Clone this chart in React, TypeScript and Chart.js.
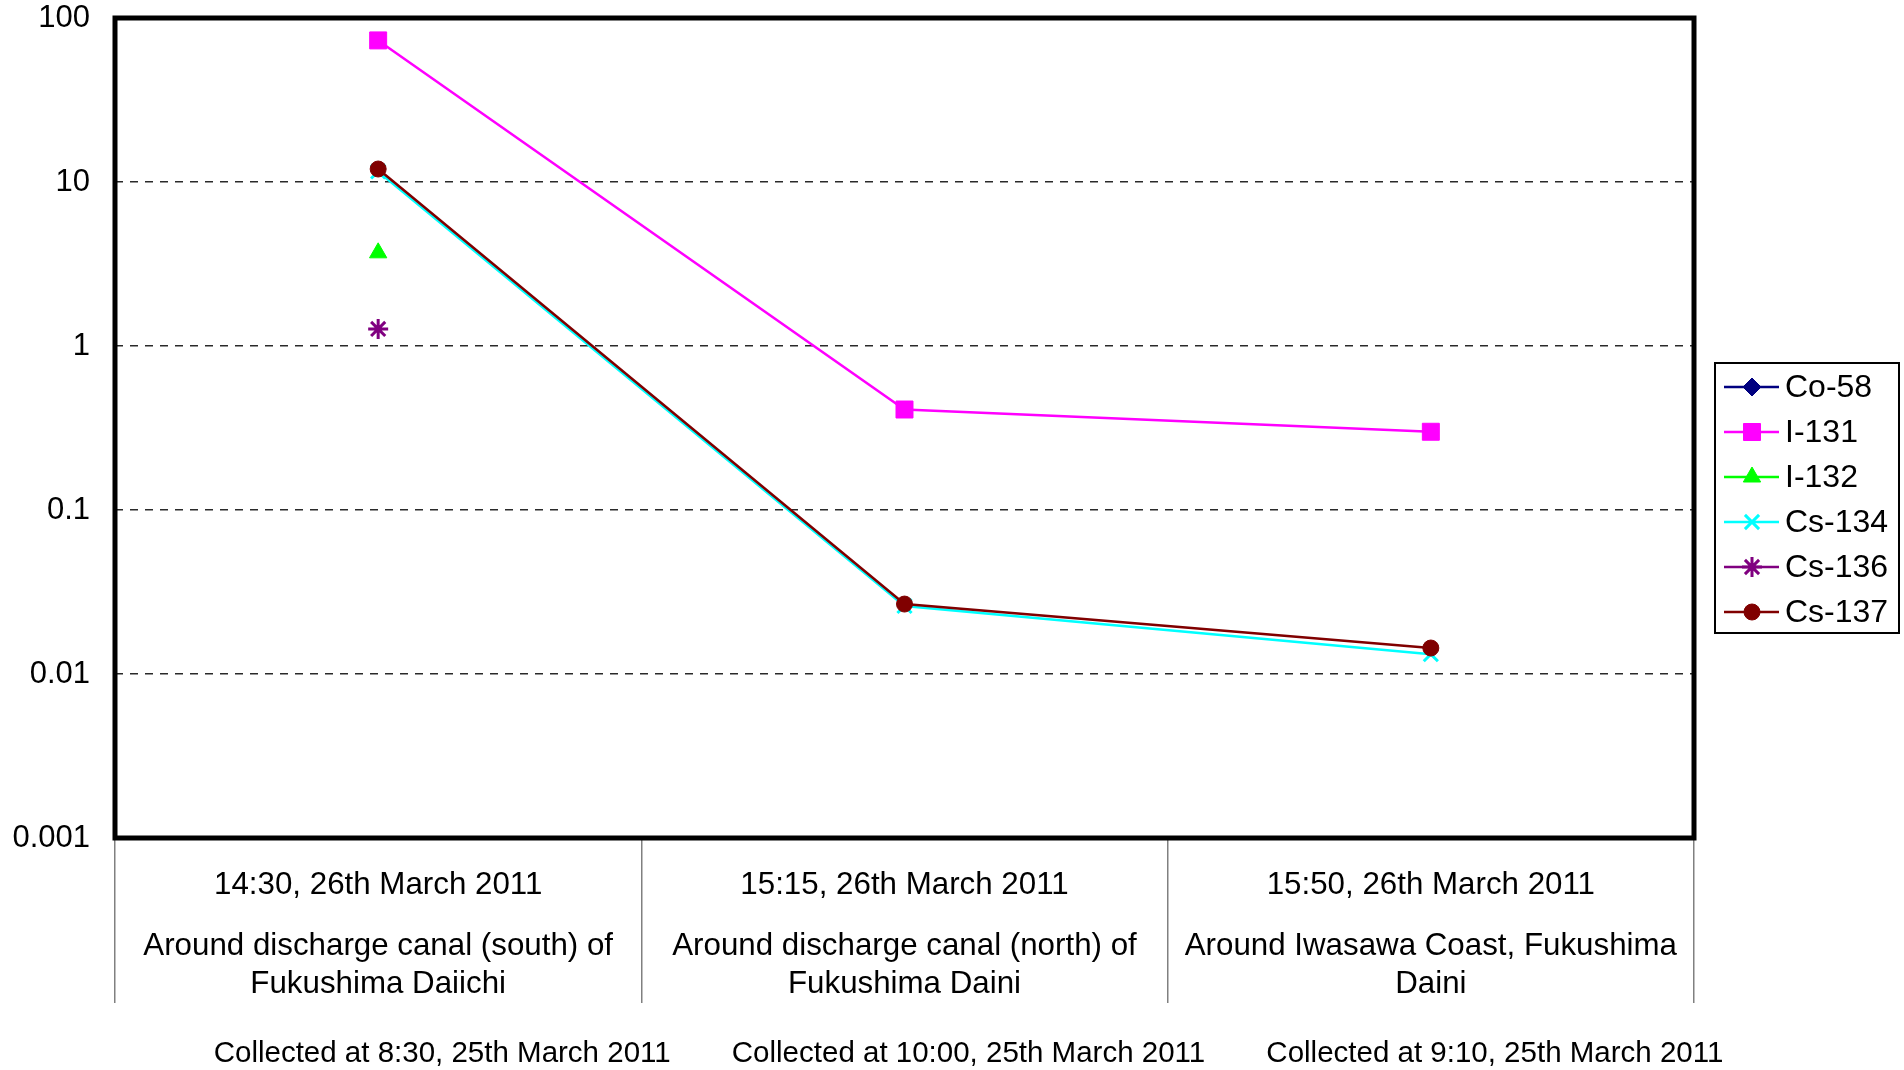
import { useEffect, useRef } from "react";
import { Chart, registerables } from "chart.js";
import { drawPoint } from "chart.js/helpers";

Chart.register(...registerables);

// ---- data ----
const timeLabels = [
  "14:30, 26th March 2011",
  "15:15, 26th March 2011",
  "15:50, 26th March 2011",
];
const locationLabels = [
  ["Around discharge canal (south) of", "Fukushima Daiichi"],
  ["Around discharge canal (north) of", "Fukushima Daini"],
  ["Around Iwasawa Coast, Fukushima", "Daini"],
];
const collectedLabels = [
  "Collected at 8:30, 25th March 2011",
  "Collected at 10:00, 25th March 2011",
  "Collected at 9:10, 25th March 2011",
];
const yTickValues = [0.001, 0.01, 0.1, 1, 10, 100];
const yTickLabels = ["0.001", "0.01", "0.1", "1", "10", "100"];

const seriesNames = ["Co-58", "I-131", "I-132", "Cs-134", "Cs-136", "Cs-137"];
const co58: (number | null)[] = [null, null, null];
const i131: (number | null)[] = [73, 0.41, 0.3];
const i132: (number | null)[] = [3.7, null, null];
const cs134: (number | null)[] = [11.6, 0.026, 0.0132];
const cs136: (number | null)[] = [1.27, null, null];
const cs137: (number | null)[] = [12, 0.0267, 0.0144];

const FONT = "'Liberation Sans', Arial, sans-serif";

const styles = [
  { color: "#000080", pointStyle: "rectRot", radius: 9, pbw: 1 },
  { color: "#FF00FF", pointStyle: "rect", radius: 12, pbw: 1 },
  { color: "#00FF00", pointStyle: "triangle", radius: 10, pbw: 1 },
  { color: "#00FFFF", pointStyle: "crossRot", radius: 10, pbw: 3 },
  { color: "#800080", pointStyle: "star", radius: 10, pbw: 3 },
  { color: "#800000", pointStyle: "circle", radius: 8, pbw: 1 },
];

const frameBorder = {
  id: "frameBorder",
  afterDraw(chart: any) {
    const { ctx, chartArea: a } = chart;
    ctx.save();
    ctx.strokeStyle = "#000";
    ctx.lineWidth = 5;
    ctx.strokeRect(a.left, a.top, a.right - a.left, a.bottom - a.top);
    ctx.restore();
  },
};

const boxLegend = {
  id: "boxLegend",
  afterDraw(chart: any) {
    const { ctx, chartArea: a } = chart;
    const left = a.right + 21;
    const top = 363;
    const w = 184;
    const h = 270;
    ctx.save();
    ctx.fillStyle = "#fff";
    ctx.fillRect(left, top, w, h);
    ctx.strokeStyle = "#000";
    ctx.lineWidth = 2;
    ctx.strokeRect(left, top, w, h);
    chart.data.datasets.forEach((ds: any, i: number) => {
      const cy = top + 24 + i * 45;
      ctx.strokeStyle = ds.borderColor;
      ctx.lineWidth = 2.5;
      ctx.beginPath();
      ctx.moveTo(left + 9, cy);
      ctx.lineTo(left + 64, cy);
      ctx.stroke();
      ctx.fillStyle = ds.pointBackgroundColor;
      ctx.strokeStyle = ds.pointBorderColor;
      ctx.lineWidth = ds.pointBorderWidth;
      drawPoint(ctx, { pointStyle: ds.pointStyle, radius: ds.pointRadius, rotation: 0, borderWidth: ds.pointBorderWidth } as any, left + 37, cy);
      ctx.fillStyle = "#000";
      ctx.font = `32px ${FONT}`;
      ctx.textBaseline = "middle";
      ctx.textAlign = "left";
      ctx.fillText(ds.label, left + 70, cy + 1);
    });
    ctx.restore();
  },
};

export default function App() {
  const ref = useRef<HTMLCanvasElement | null>(null);
  useEffect(() => {
    document.body.style.margin = "0";
    const values = [co58, i131, i132, cs134, cs136, cs137];
    const datasets = seriesNames.map((name, i) => ({
      label: name,
      data: values[i],
      borderColor: styles[i].color,
      backgroundColor: styles[i].color,
      pointBackgroundColor: styles[i].color,
      pointBorderColor: styles[i].color,
      pointBorderWidth: styles[i].pbw,
      pointStyle: styles[i].pointStyle,
      pointRadius: styles[i].radius,
      borderWidth: 2.5,
      order: seriesNames.length - 1 - i,
      tension: 0,
    }));
    const tickFont = { family: FONT, size: 31.3, lineHeight: 38 / 31.3 };
    const chart = new Chart(ref.current as HTMLCanvasElement, {
      type: "line",
      data: { labels: timeLabels, datasets: datasets as any },
      options: {
        responsive: false,
        animation: false,
        layout: { padding: { top: 18, right: 210, left: 0, bottom: 0 } },
        plugins: { legend: { display: false }, tooltip: { enabled: false }, title: { display: false } },
        scales: {
          x: {
            type: "category",
            labels: timeLabels,
            offset: true,
            weight: 0,
            grid: { offset: true, drawOnChartArea: false, tickLength: 165, color: "#808080", lineWidth: 1.5 },
            border: { display: false },
            ticks: { padding: -137, font: tickFont, color: "#000", maxRotation: 0, autoSkip: false },
            afterFit: (s: any) => { s.height = 62; s.paddingLeft = 0; s.paddingRight = 0; },
          },
          x2: {
            type: "category",
            position: "bottom",
            labels: locationLabels as any,
            offset: true,
            weight: 1,
            grid: { display: false },
            border: { display: false },
            ticks: { padding: 19, font: tickFont, color: "#000", maxRotation: 0, autoSkip: false },
            afterFit: (s: any) => { s.height = 100; s.paddingLeft = 0; s.paddingRight = 0; },
          },
          x3: {
            type: "category",
            position: "bottom",
            labels: collectedLabels,
            offset: true,
            weight: 2,
            grid: { display: false },
            border: { display: false },
            ticks: { padding: 27, labelOffset: 64, font: { family: FONT, size: 29.5, lineHeight: 38 / 29.5 }, color: "#000", maxRotation: 0, autoSkip: false },
            afterFit: (s: any) => { s.height = 70; s.paddingLeft = 0; s.paddingRight = 0; },
          },
          y: {
            type: "logarithmic",
            min: 0.001,
            max: 100,
            afterBuildTicks: (s: any) => { s.ticks = yTickValues.map((v) => ({ value: v, major: true })); },
            ticks: {
              autoSkip: false,
              padding: 25,
              color: "#000",
              font: { family: FONT, size: 31 },
              callback: (v: any) => {
                const idx = yTickValues.indexOf(Number(v));
                return idx >= 0 ? yTickLabels[idx] : "";
              },
            },
            grid: {
              drawTicks: false,
              lineWidth: 1.5,
              color: (c: any) => (c.tick && (c.tick.value === 100 || c.tick.value === 0.001) ? "rgba(0,0,0,0)" : "#2a2a2a"),
            },
            border: { display: false, dash: [8, 7] },
            afterFit: (s: any) => { s.width = 115; s.paddingTop = 0; s.paddingBottom = 0; },
          },
        },
      } as any,
      plugins: [frameBorder, boxLegend],
    });
    return () => chart.destroy();
  }, []);
  return (
    <div style={{ width: 1904, height: 1070, background: "#fff" }}>
      <canvas ref={ref} width={1904} height={1070} style={{ width: 1904, height: 1070, display: "block" }} />
    </div>
  );
}
